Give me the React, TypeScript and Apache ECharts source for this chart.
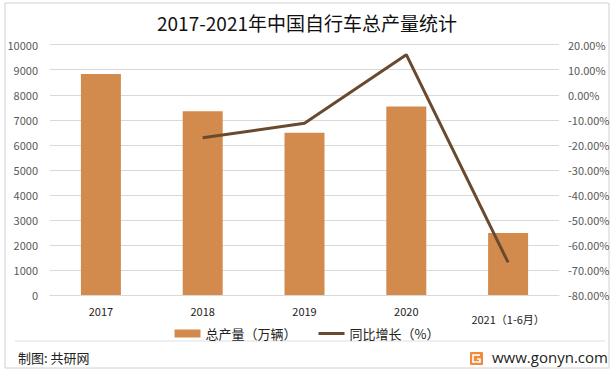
import React, { useEffect, useRef } from "react";
import * as echarts from "echarts";

const categories = ["2017", "2018", "2019", "2020", "2021（1-6月）"];
const production = [8830, 7340, 6480, 7530, 2480];
const growth = [null, -17.2, -11.4, 16.0, -67.0];
const leftTicks = { min: 0, max: 10000, interval: 1000 };
const rightTicks = { min: -80, max: 20, interval: 10 };
const titleText = "2017-2021年中国自行车总产量统计";
const seriesNames = ["总产量（万辆）", "同比增长（%）"];

export default function App() {
  const ref = useRef<HTMLDivElement>(null);
  useEffect(() => {
    const chart = echarts.init(ref.current!, null, { renderer: "svg" });
    const font = "'Noto Sans CJK SC', 'Noto Sans', sans-serif";
    chart.setOption({
      animation: false,
      backgroundColor: "#fff",
      textStyle: { fontFamily: font },
      title: {
        text: titleText,
        left: "center",
        top: 8,
        textStyle: { fontSize: 19, fontWeight: "normal", color: "#111", fontFamily: font },
      },
      legend: {
        top: 322,
        left: "center",
        itemWidth: 26,
        itemHeight: 8,
        itemGap: 22,
        textStyle: { fontSize: 13, color: "#222", fontFamily: font },
        data: [
          { name: seriesNames[0], icon: "rect" },
          { name: seriesNames[1], icon: "path://M0,0 L26,0 L26,3 L0,3 Z" },
        ],
      },
      grid: { left: 50, right: 55, top: 44.7, bottom: 75 },
      xAxis: {
        type: "category",
        data: categories,
        axisLine: { show: true, lineStyle: { color: "#d9d9d9" } },
        axisTick: { show: false },
        axisLabel: {
          interval: 0,
          color: "#222",
          fontSize: 11,
          margin: 10,
          formatter: (v: string) => (v.length > 4 ? "{b|" + v + "}" : v),
          rich: { b: { fontSize: 11, color: "#222", padding: [9, 0, 0, 0] } },
        },
      },
      yAxis: [
        {
          type: "value",
          ...leftTicks,
          axisLine: { show: false },
          axisTick: { show: false },
          splitLine: { lineStyle: { color: "#d9d9d9" } },
          axisLabel: { color: "#595959", fontSize: 11, margin: 12, formatter: (v: number) => String(v) },
        },
        {
          type: "value",
          ...rightTicks,
          axisLine: { show: false },
          axisTick: { show: false },
          splitLine: { show: false },
          axisLabel: {
            color: "#595959",
            fontSize: 11,
            margin: 9,
            formatter: (v: number) => v.toFixed(2) + "%",
          },
        },
      ],
      series: [
        {
          name: seriesNames[0],
          type: "bar",
          data: production,
          barWidth: 40,
          itemStyle: { color: "#D38B4D" },
        },
        {
          name: seriesNames[1],
          type: "line",
          yAxisIndex: 1,
          data: growth,
          symbol: "none",
          lineStyle: { color: "#6A4A2F", width: 3 },
          itemStyle: { color: "#6A4A2F" },
        },
      ],
      graphic: [
        {
          type: "rect",
          shape: { x: 5, y: 3, width: 604, height: 365 },
          style: { fill: "none", stroke: "#d0d0d0", lineWidth: 1 },
          silent: true,
        },
        {
          type: "line",
          shape: { x1: 15, y1: 341, x2: 605, y2: 341 },
          style: { stroke: "#e0e0e0", lineWidth: 1 },
        },
        {
          type: "text",
          left: 18,
          top: 351,
          style: { text: "制图: 共研网", fontSize: 13, fill: "#222", fontFamily: font },
        },
        {
          type: "rect",
          shape: { x: 470, y: 352, width: 13, height: 13, r: 1 },
          style: { fill: "#F08A3C" },
        },
        {
          type: "polyline",
          shape: { points: [[480, 355], [473, 355], [473, 362], [480, 362], [480, 359], [477, 359]] },
          style: { stroke: "#fff", lineWidth: 1.6, fill: "none" },
        },
        {
          type: "text",
          left: 492,
          top: 349,
          style: { text: "www.gonyn.com", fontSize: 15, fill: "#222", fontFamily: "'Open Sans', 'DejaVu Sans', sans-serif" },
        },
      ],
    });
    return () => chart.dispose();
  }, []);
  return (
    <div
      ref={ref}
      style={{ position: "absolute", left: 0, top: 0, width: 614, height: 370 }}
    />
  );
}
